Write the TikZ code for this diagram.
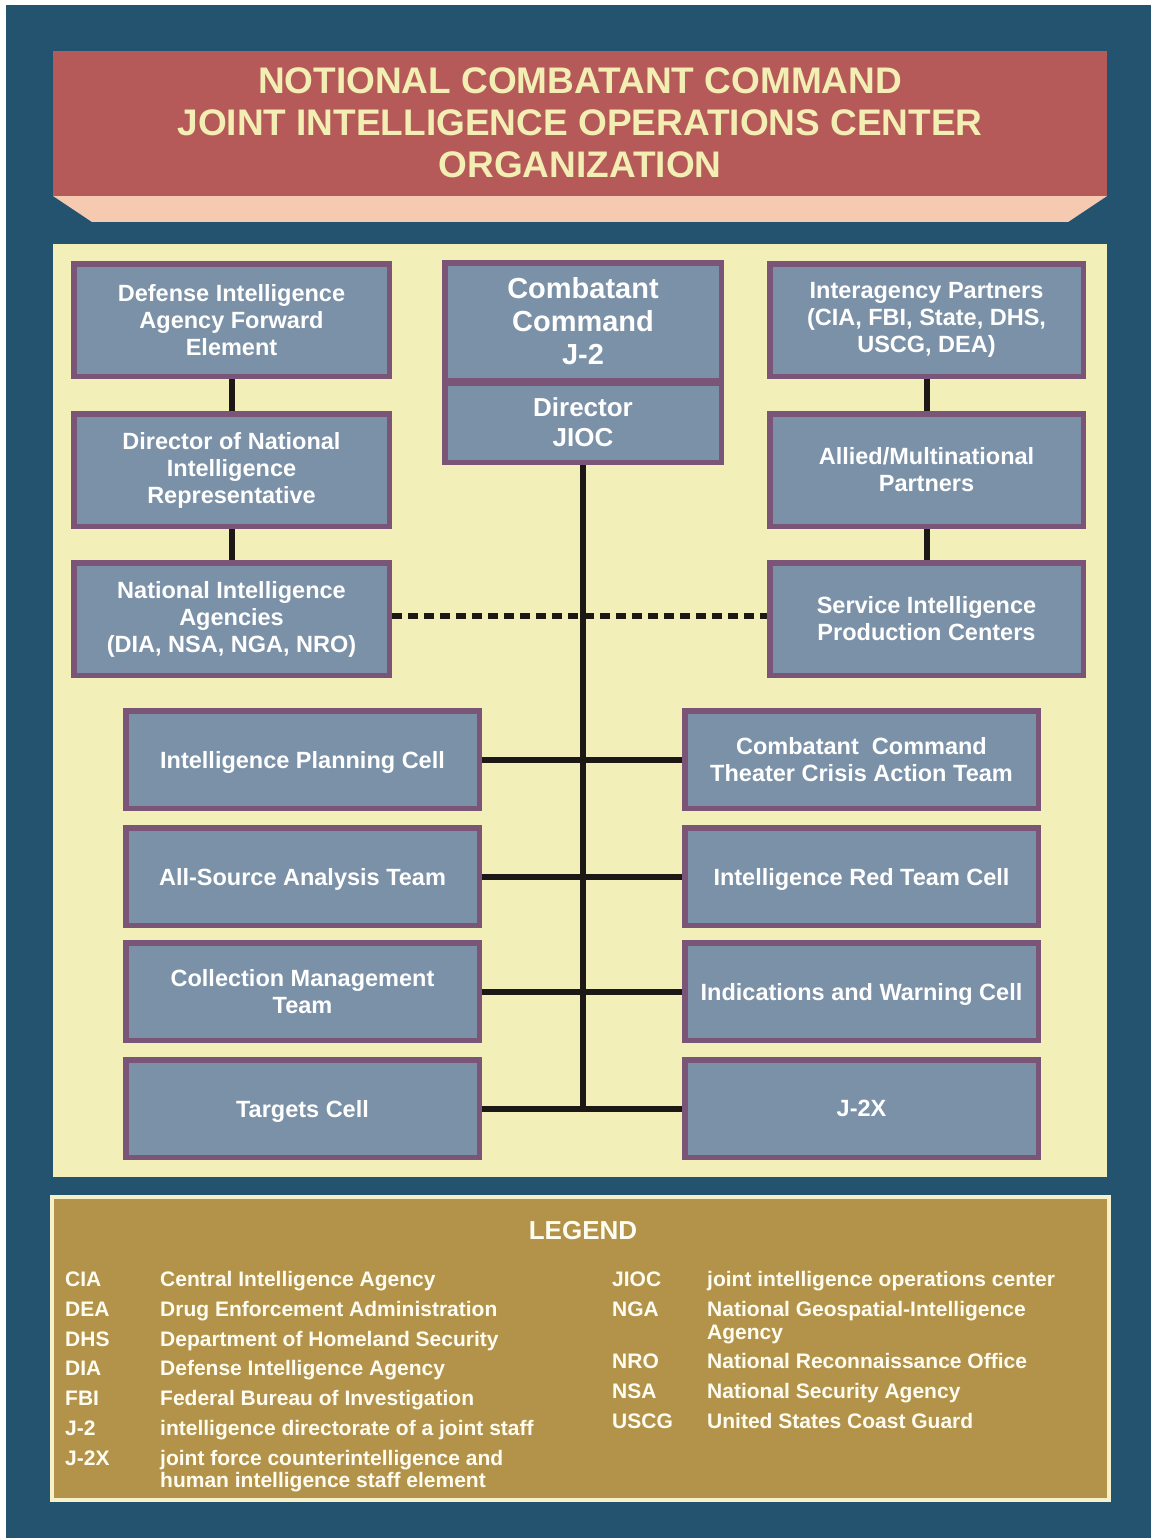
\documentclass[tikz,border=0pt]{standalone}
\usepackage{fontspec}
\setmainfont{Liberation Sans}
\definecolor{bgblue}{HTML}{24536F}
\definecolor{titlered}{HTML}{B65A59}
\definecolor{peach}{HTML}{F6CAB0}
\definecolor{panel}{HTML}{F2F0B8}
\definecolor{boxfill}{HTML}{7B91A8}
\definecolor{boxline}{HTML}{7B5577}
\definecolor{conn}{HTML}{1C1815}
\definecolor{gold}{HTML}{B39349}
\definecolor{cream}{HTML}{F6F1C9}
\definecolor{titletext}{HTML}{F2EEB4}
\definecolor{legtext}{HTML}{FFFDF2}
\begin{document}
\begin{tikzpicture}[x=1pt,y=-1pt,
  boxbase/.style={draw=boxline, fill=boxfill, line width=5.5pt, text=white,
    font=\bfseries\fontsize{23.5}{27}\selectfont, align=center, inner sep=0pt},
  tbox/.style={boxbase, minimum width=315.5pt, minimum height=112.5pt},
  rbox/.style={boxbase, minimum width=313.5pt, minimum height=112.5pt},
  lbox/.style={boxbase, minimum width=353.5pt, minimum height=97.5pt, text depth=0pt},
  link/.style={draw=conn, line width=6pt},
  dlink/.style={draw=conn, line width=6pt, dash pattern=on 10pt off 6pt},
  leg/.style={text=legtext, font=\bfseries\fontsize{21}{22.5}\selectfont, inner sep=0pt, anchor=base west}]
\useasboundingbox (0,0) rectangle (1151,1538);
\fill[white] (0,0) rectangle (1151,1538);
\fill[bgblue] (6,5) rectangle (1151,1538);
% title banner
\fill[peach] (53,196) -- (1107,196) -- (1068,222) -- (92,222) -- cycle;
\fill[titlered] (53,51) rectangle (1107,196);
\node[text=titletext, font=\bfseries\fontsize{37}{42}\selectfont, align=center, inner sep=0pt] (title) at (580,123)
  {NOTIONAL COMBATANT COMMAND\\JOINT INTELLIGENCE OPERATIONS CENTER\\ORGANIZATION};
% panel
\fill[panel] (53,244) rectangle (1107,1177);
% top left column
\node[tbox] (dia) at (231.5,320) {Defense Intelligence\\Agency Forward\\Element};
\node[tbox] (dni) at (231.5,470) {Director of National\\Intelligence\\Representative};
\node[tbox] (nia) at (231.5,619) {National Intelligence\\Agencies\\(DIA, NSA, NGA, NRO)};
% top right column
\node[rbox] (ia) at (926.5,320) {Interagency Partners\\(CIA, FBI, State, DHS,\\USCG, DEA)};
\node[rbox] (allied) at (926.5,470) {Allied/Multinational\\Partners};
\node[rbox] (sipc) at (926.5,619) {Service Intelligence\\Production Centers};
% center
\node[boxbase, minimum width=276.5pt, minimum height=117.5pt, font=\bfseries\fontsize{29}{33}\selectfont] (cc) at (583,321.5) {Combatant\\Command\\J-2};
\node[boxbase, minimum width=276.5pt, minimum height=79.5pt, font=\bfseries\fontsize{26}{30}\selectfont] (dir) at (583,422.5) {Director\\JIOC};
% lower boxes
\node[lbox] (ipc) at (302.5,759.5) {Intelligence Planning Cell};
\node[lbox] (asat) at (302.5,876.5) {All-Source Analysis Team};
\node[lbox] (cmt) at (302.5,991.5) {Collection Management\\Team};
\node[lbox] (tgt) at (302.5,1108.5) {Targets Cell};
\node[lbox] (ccat) at (861.5,759.5) {Combatant\ \ Command\\Theater Crisis Action Team};
\node[lbox] (irt) at (861.5,876.5) {Intelligence Red Team Cell};
\node[lbox] (iwc) at (861.5,991.5) {Indications and Warning Cell};
\node[lbox] (j2x) at (861.5,1108.5) {J-2X};
% connectors
\draw[link] (dia) -- (dni);
\draw[link] (dni) -- (nia);
\draw[link] (ia) -- (allied);
\draw[link] (allied) -- (sipc);
\draw[dlink] ([yshift=3pt]nia.east) -- ([yshift=3pt]sipc.west);
\draw[link] (ipc.east) -- (ccat.west);
\draw[link] (asat.east) -- (irt.west);
\draw[link] (cmt.east) -- (iwc.west);
\draw[link] (tgt.east) -- (j2x.west);
\coordinate (jend) at (dir.south |- tgt.east);
\draw[link] (dir.south) -- ([yshift=-3pt]jend);
% legend
\draw[cream, line width=4pt, fill=gold] (52,1197) rectangle (1109,1500);
\node[text=legtext, font=\bfseries\fontsize{26}{30}\selectfont, inner sep=0pt] (legtitle) at (583,1231) {LEGEND};
\node[leg] (a1) at (65,1286.5) {CIA};
\node[leg] (d1) at (160,1286.5) {Central Intelligence Agency};
\node[leg] (a2) at (65,1316.5) {DEA};
\node[leg] (d2) at (160,1316.5) {Drug Enforcement Administration};
\node[leg] (a3) at (65,1346.5) {DHS};
\node[leg] (d3) at (160,1346.5) {Department of Homeland Security};
\node[leg] (a4) at (65,1375.5) {DIA};
\node[leg] (d4) at (160,1375.5) {Defense Intelligence Agency};
\node[leg] (a5) at (65,1405.5) {FBI};
\node[leg] (d5) at (160,1405.5) {Federal Bureau of Investigation};
\node[leg] (a6) at (65,1435.5) {J-2};
\node[leg] (d6) at (160,1435.5) {intelligence directorate of a joint staff};
\node[leg] (a7) at (65,1465.5) {J-2X};
\node[leg] (d7) at (160,1465.5) {joint force counterintelligence and};
\node[leg] (d7b) at (160,1487.5) {human intelligence staff element};
\node[leg] (b1) at (612,1286.5) {JIOC};
\node[leg] (e1) at (707,1286.5) {joint intelligence operations center};
\node[leg] (b2) at (612,1316.5) {NGA};
\node[leg] (e2) at (707,1316.5) {National Geospatial-Intelligence};
\node[leg] (e2b) at (707,1339.5) {Agency};
\node[leg] (b3) at (612,1368.5) {NRO};
\node[leg] (e3) at (707,1368.5) {National Reconnaissance Office};
\node[leg] (b4) at (612,1398.5) {NSA};
\node[leg] (e4) at (707,1398.5) {National Security Agency};
\node[leg] (b5) at (612,1428.5) {USCG};
\node[leg] (e5) at (707,1428.5) {United States Coast Guard};
\end{tikzpicture}
\end{document}
